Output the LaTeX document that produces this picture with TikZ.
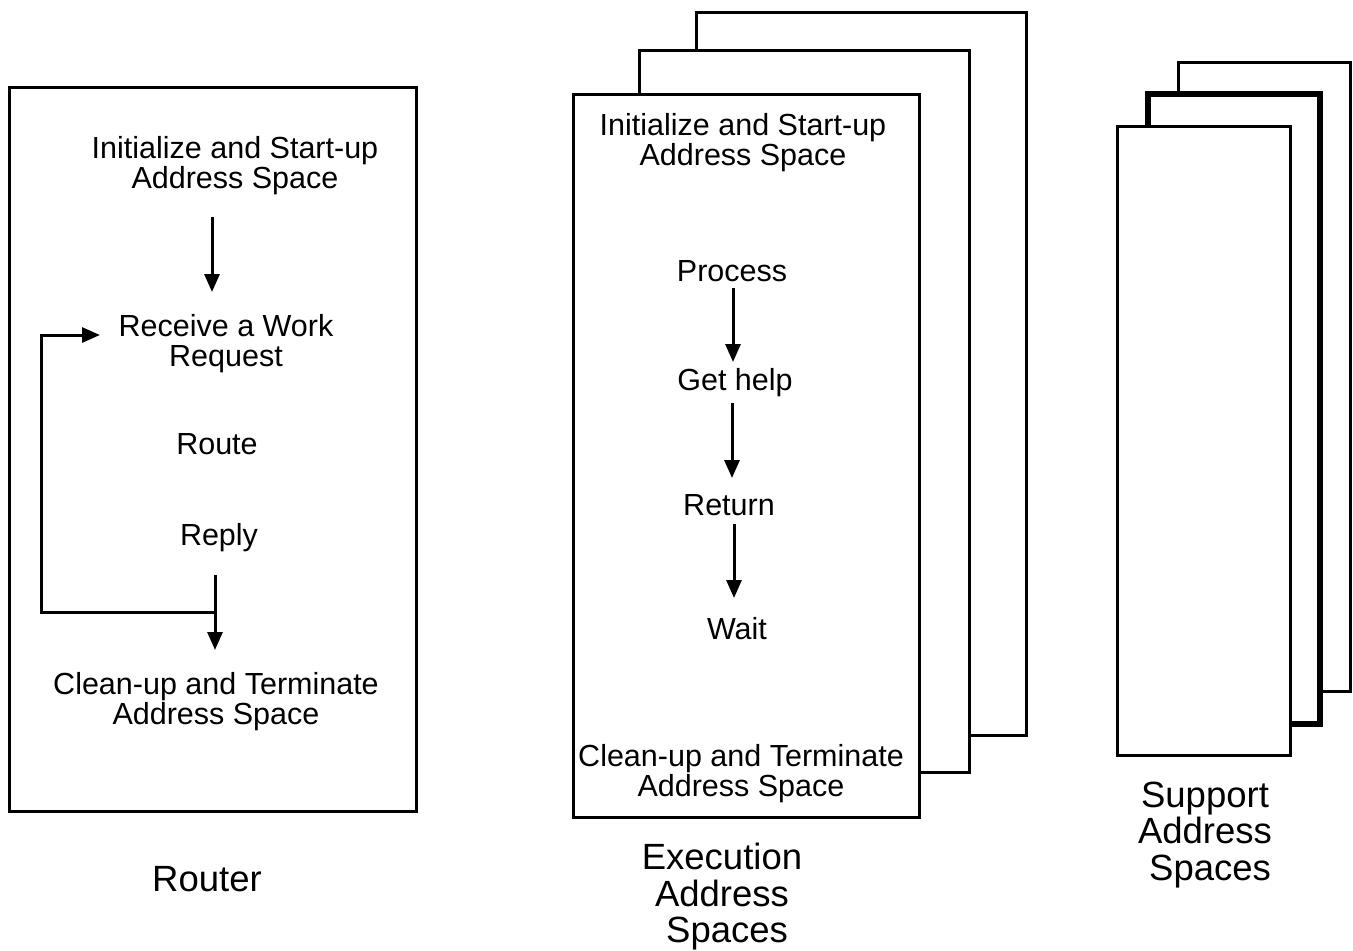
\documentclass[tikz,border=0pt]{standalone}
\usepackage{fontspec}
\setmainfont{Liberation Sans}
\usetikzlibrary{arrows.meta}
\begin{document}
\begin{tikzpicture}[x=1pt,y=-1pt,
  box/.style={draw, line width=3pt, fill=white},
  thickbox/.style={draw, line width=5.5pt, fill=white},
  txt/.style={font=\fontsize{30.5}{30}\selectfont, align=center, inner sep=0pt},
  lbl/.style={font=\fontsize{36.5}{36.5}\selectfont, align=center, inner sep=0pt},
  arr/.style={line width=3pt, -{Triangle[width=15pt,length=18pt]}},
  line/.style={line width=3pt}]
\useasboundingbox (0,0) rectangle (1353,951);

% Router
\draw[box] (9,87) rectangle (416,811);
\node[txt] (rinit) at (235,166) {Initialize and Start-up\\Address Space};
\node[txt] (rrecv) at (226,344) {Receive a Work\\Request};
\node[txt] (rroute) at (217,444) {Route};
\node[txt] (rreply) at (219,538) {Reply};
\node[txt] (rclean) at (216,702) {Clean-up and Terminate\\Address Space};
\node[lbl] (rlabel) at (207,879) {Router};
\coordinate (r1s) at (212,217);
\coordinate (r1e) at (212,292);
\draw[arr] (r1s) -- (r1e);
\coordinate (r2s) at (215,575);
\coordinate (r2e) at (215,650);
\draw[arr] (r2s) -- (r2e);
\coordinate (lp0) at (217,612);
\coordinate (lp1) at (41,335);
\coordinate (lp2) at (100,335);
\draw[arr] (lp0) -| (lp1) -- (lp2);

% Execution address spaces
\draw[box] (696,12) rectangle (1026,735);
\draw[box] (639,50) rectangle (969,772);
\draw[box] (573,94) rectangle (919,817);
\node[txt] (einit) at (743,143) {Initialize and Start-up\\Address Space};
\node[txt] (eproc) at (732,271) {Process};
\node[txt] (ehelp) at (735,383) {Get help};
\node[txt] (eret) at (729,505) {Return};
\node[txt] (ewait) at (737,629) {Wait};
\node[txt] (eclean) at (741,774) {Clean-up and Terminate\\Address Space};
\node[lbl] (elabel) at (722,897) {Execution\\Address\\\ Spaces};
\coordinate (e1s) at (733,288);
\coordinate (e1e) at (733,362);
\coordinate (e2s) at (732,403);
\coordinate (e2e) at (732,478);
\coordinate (e3s) at (734,524);
\coordinate (e3e) at (734,598);
\draw[arr] (e1s) -- (e1e);
\draw[arr] (e2s) -- (e2e);
\draw[arr] (e3s) -- (e3e);

% Support address spaces
\draw[box] (1178,62) rectangle (1350,691);
\draw[thickbox] (1148,94) rectangle (1320,724);
\draw[box] (1117,126) rectangle (1290,755);
\node[lbl] (slabel) at (1205,835) {Support\\Address\\\ Spaces};
\end{tikzpicture}
\end{document}
